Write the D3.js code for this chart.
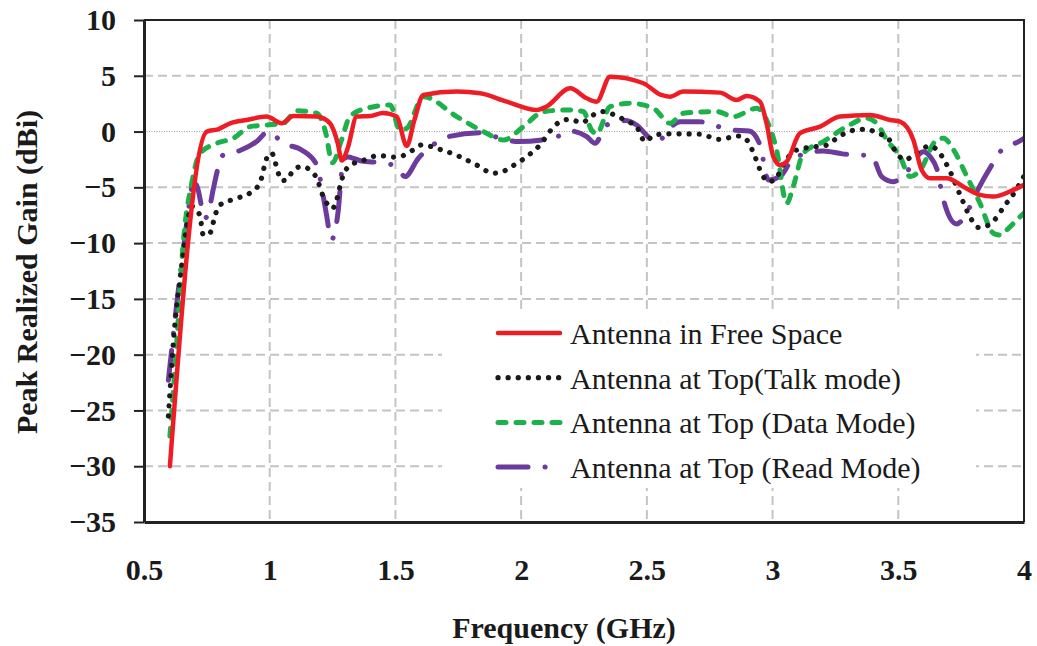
<!DOCTYPE html>
<html>
<head>
<meta charset="utf-8">
<script src="https://cdn.jsdelivr.net/npm/d3@7"></script>
<style>
  body { margin: 0; background: #fff; }
  text { font-family: "Liberation Serif", "Times New Roman", serif; fill: #1a1a1a; }
  .tick text { font-size: 30px; font-weight: bold; }
  .grid line { stroke: #c4c4c4; stroke-width: 2; stroke-dasharray: 9,5; }
</style>
</head>
<body>
<script>
    // ---- data ----
    var xTicks = [0.5, 1, 1.5, 2, 2.5, 3, 3.5, 4];
    var yTicks = [10, 5, 0, -5, -10, -15, -20, -25, -30, -35];

    var seriesNames = ["Antenna in Free Space", "Antenna at Top(Talk mode)",
                       "Antenna at Top (Data Mode)", "Antenna at Top (Read Mode)"];

    var freeFreq = [0.603,0.75,0.794,0.842,0.908,0.988,1.048,1.094,1.187,1.24,1.27,1.287,1.31,1.346,1.40,1.45,1.505,1.545,1.575,1.611,1.744,1.837,1.943,2.063,2.10,2.195,2.261,2.30,2.354,2.486,2.557,2.592,2.645,2.791,2.857,2.897,2.95,2.976,3.003,3.03,3.056,3.109,3.189,3.268,3.388,3.467,3.507,3.56,3.593,3.627,3.693,3.759,3.825,3.878,3.958,4.0];
    var freeGain = [-30,0,0.2,0.74,1.04,1.34,0.74,1.4,1.34,0.74,-1.0,-2.6,-1.5,1.34,1.4,1.66,1.34,-1.3,1.0,3.28,3.58,3.43,2.68,1.94,2.23,3.88,2.98,2.68,4.92,4.33,3.28,3.13,3.58,3.49,2.83,3.19,2.68,0.74,-2.25,-3.0,-2.7,-0.15,0.44,1.34,1.49,1.04,0.89,-0.75,-3.44,-4.19,-4.19,-4.94,-5.68,-5.83,-5.23,-4.78];

    var talkFreq = [0.597,0.62,0.65,0.67,0.69,0.703,0.723,0.736,0.762,0.782,0.796,0.855,0.922,0.961,0.988,1.008,1.021,1.048,1.07,1.094,1.127,1.16,1.187,1.213,1.25,1.266,1.286,1.32,1.359,1.432,1.505,1.571,1.604,1.677,1.75,1.823,1.889,1.927,1.962,2.022,2.075,2.125,2.155,2.195,2.24,2.287,2.32,2.354,2.393,2.426,2.459,2.493,2.53,2.599,2.711,2.788,2.864,2.897,2.93,2.956,2.983,3.009,3.043,3.096,3.175,3.209,3.275,3.348,3.381,3.414,3.454,3.494,3.527,3.56,3.627,3.66,3.7,3.746,3.792,3.819,3.852,3.885,3.925,3.951,4.0];
    var talkGain = [-25.5,-18,-12,-8.5,-6.7,-6.9,-7.6,-9.3,-9.1,-7.6,-6.7,-6.07,-5.5,-4.6,-2.4,-1.9,-2.7,-4.4,-4.3,-3.44,-3.14,-3.44,-4.19,-5.83,-6.9,-6.13,-4.34,-3.0,-2.7,-2.16,-2.3,-1.65,-1.2,-1.6,-2.19,-3.0,-3.74,-3.59,-3.14,-2.25,-1.2,0.3,0.89,1.1,0.8,1.49,1.79,1.64,1.25,0.89,0.44,-0.9,-0.3,-0.2,-0.24,-0.7,-0.4,-0.75,-2.25,-3.74,-4.49,-4.34,-2.93,-1.65,-1.35,-1.26,-0.3,0.2,0.2,-0.15,-0.46,-1.95,-2.55,-2.1,-1.29,-1.8,-3.29,-5.68,-7.92,-8.6,-8.46,-7.86,-6.58,-5.83,-4.0];

    var dataFreq = [0.603,0.63,0.656,0.69,0.723,0.789,0.855,0.922,0.988,1.054,1.107,1.187,1.22,1.25,1.285,1.319,1.386,1.479,1.518,1.545,1.611,1.744,1.85,1.93,2.009,2.089,2.195,2.248,2.28,2.30,2.354,2.433,2.526,2.592,2.645,2.778,2.844,2.937,2.976,3.016,3.056,3.082,3.122,3.202,3.295,3.374,3.414,3.454,3.507,3.547,3.587,3.653,3.68,3.72,3.773,3.825,3.878,3.905,3.932,3.978,4.0];
    var dataGain = [-27.3,-19,-10.0,-4.6,-1.95,-1.05,-0.6,0.44,0.59,0.74,1.87,1.64,0.14,-2.8,-0.8,1.34,2.09,2.38,0.14,0.3,3.13,1.34,0,-0.75,0.44,1.79,1.94,1.79,0.14,-0.2,2.23,2.53,2.09,0.74,1.64,1.79,1.34,2.09,1.04,-1.65,-6.43,-4.94,-1.95,-0.9,0.44,1.19,0.74,-0.75,-2.25,-4.04,-3.44,-0.75,-0.6,-1.65,-4.04,-6.43,-9.11,-9.27,-8.8,-7.77,-7.3];

    var readFreq = [0.597,0.63,0.663,0.683,0.695,0.709,0.743,0.76,0.776,0.815,0.882,0.948,0.994,1.054,1.127,1.187,1.213,1.226,1.245,1.273,1.286,1.306,1.365,1.445,1.505,1.538,1.591,1.644,1.71,1.842,1.916,1.989,2.128,2.195,2.261,2.294,2.34,2.413,2.459,2.513,2.546,2.579,2.632,2.705,2.837,2.907,2.95,2.983,3.036,3.082,3.202,3.277,3.394,3.434,3.48,3.534,3.6,3.627,3.66,3.673,3.732,3.775,3.806,3.872,3.914,3.978,4.0];
    var readGain = [-22.3,-15.5,-9.4,-6.1,-4.6,-4.8,-7.77,-6.9,-5.1,-2.1,-1.7,-0.9,0,-1.05,-1.65,-3.0,-5.83,-7.47,-9.7,-7.0,-3.7,-2.25,-2.64,-2.8,-3.14,-4.04,-2.4,-1.29,-0.46,-0.1,-0.6,-0.9,-0.6,0.05,-0.46,-1.05,0.59,0.98,0.59,-0.6,-0.9,0,0.89,0.89,0.14,0.05,-1.2,-4.34,-3.89,-2.4,-1.74,-2.0,-2.19,-4.04,-4.49,-3.59,-1.8,-2.25,-3.89,-5.53,-8.28,-7.17,-5.68,-3.0,-1.59,-0.9,-0.6];

    // ---- layout ----
    var margin = {top: 20, right: 13, bottom: 124, left: 144},
    width = 1037 - margin.left - margin.right,
    height = 646 - margin.top - margin.bottom;

    var x = d3.scaleLinear().domain([0.5, 4]).range([0, width]);
    var y = d3.scaleLinear().domain([-35, 10]).range([height, 0]);

    var svg = d3.select("body").append("svg")
      .attr("width", 1037)
      .attr("height", 646)
    .append("g")
      .attr("transform", "translate(" + margin.left + "," + margin.top + ")");

    svg.append("clipPath").attr("id", "plotclip")
      .append("rect").attr("width", width).attr("height", height);

    //grid lines
    svg.append("g").attr("class", "grid")
      .selectAll("line")
      .data(xTicks.filter(function(d) { return d > 0.5 && d < 4; }))
      .enter().append("line")
      .attr("x1", x).attr("x2", x)
      .attr("y1", 0).attr("y2", height);

    svg.append("g").attr("class", "grid")
      .selectAll("line")
      .data(yTicks.filter(function(d) { return d < 10 && d > -35 && d !== 0; }))
      .enter().append("line")
      .attr("x1", 0).attr("x2", width)
      .attr("y1", y).attr("y2", y);

    //zero line, fine dotted
    svg.append("line")
      .attr("x1", 0).attr("x2", width)
      .attr("y1", y(0)).attr("y2", y(0))
      .attr("stroke", "#9a9a9a")
      .attr("stroke-width", 1)
      .attr("stroke-dasharray", "1,1.5");

    //series
    var styles = [
      {color: "#ee1d25", width: 4.5, dash: null, cap: "round"},
      {color: "#1a1a1a", width: 5.2, dash: "0.1,10", cap: "round"},
      {color: "#1db14b", width: 5, dash: "8,10", cap: "round"},
      {color: "#6c3b9c", width: 5, dash: "30,17,0.1,17", cap: "round"}
    ];
    var series = [
      d3.zip(freeFreq, freeGain),
      d3.zip(talkFreq, talkGain),
      d3.zip(dataFreq, dataGain),
      d3.zip(readFreq, readGain)
    ];

    var valueline = d3.line()
      .curve(d3.curveMonotoneX)
      .x(function(d) { return x(d[0]); })
      .y(function(d) { return y(d[1]); });

    //draw read, data, talk, then free space on top
    [3, 2, 1, 0].forEach(function(i) {
      svg.append("path")
        .datum(series[i])
        .attr("clip-path", "url(#plotclip)")
        .attr("fill", "none")
        .attr("stroke", styles[i].color)
        .attr("stroke-width", styles[i].width)
        .attr("stroke-linecap", styles[i].cap)
        .attr("stroke-linejoin", "round")
        .attr("stroke-dasharray", styles[i].dash)
        .attr("d", valueline);
    });

    //legend
    var legend = svg.append("g")
      .attr("transform", "translate(" + (442 - margin.left) + "," + (311 - margin.top) + ")");
    legend.append("rect")
      .attr("width", 534).attr("height", 177)
      .attr("fill", "#fff");
    seriesNames.forEach(function(name, i) {
      var ly = 22 + i * 44.7;
      legend.append("line")
        .attr("x1", 56).attr("x2", 118)
        .attr("y1", ly).attr("y2", ly)
        .attr("stroke", styles[i].color)
        .attr("stroke-width", styles[i].width)
        .attr("stroke-linecap", styles[i].cap)
        .attr("stroke-dasharray", styles[i].dash);
      legend.append("text")
        .attr("x", 128).attr("y", ly + 11)
        .style("font-size", "30px")
        .text(name);
    });

    //frame: top and right
    svg.append("path")
      .attr("d", "M0,0H" + width + "V" + height)
      .attr("fill", "none")
      .attr("stroke", "#222")
      .attr("stroke-width", 2);

    //add the X axis
    var xAxis = svg.append("g")
      .attr("transform", "translate(0," + height + ")")
      .call(d3.axisBottom(x).tickValues(xTicks).tickSize(0).tickPadding(37)
        .tickFormat(d3.format("")));
    xAxis.select(".domain").attr("stroke", "#222").attr("stroke-width", 3);

    //add the Y axis
    var yAxis = svg.append("g")
      .call(d3.axisLeft(y).tickValues(yTicks).tickSize(10).tickPadding(18).tickSizeOuter(0));
    yAxis.select(".domain").attr("stroke", "#222").attr("stroke-width", 3);
    yAxis.selectAll(".tick line").attr("stroke", "#222").attr("stroke-width", 2);
    svg.selectAll(".tick text").attr("fill", "#1a1a1a");

    //axis titles
    svg.append("text")
      .attr("x", 564 - margin.left)
      .attr("y", 638 - margin.top)
      .attr("text-anchor", "middle")
      .style("font-size", "30px")
      .style("font-weight", "bold")
      .text("Frequency (GHz)");

    svg.append("text")
      .attr("transform", "translate(" + (37 - margin.left) + "," + (272 - margin.top) + ") rotate(-90)")
      .attr("text-anchor", "middle")
      .style("font-size", "30px")
      .style("font-weight", "bold")
      .text("Peak Realized Gain (dBi)");
</script>
</body>
</html>
